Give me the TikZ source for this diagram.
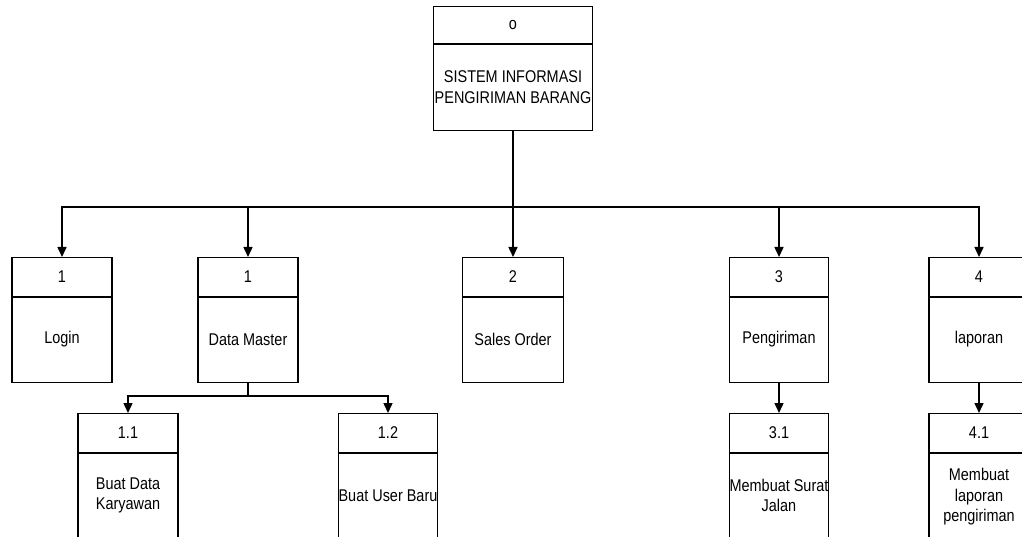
\documentclass[tikz,border=0pt]{standalone}
\usepackage{fontspec}
\setmainfont{Liberation Sans}[FakeStretch=0.85]
\usetikzlibrary{arrows.meta,calc}
\tikzset{
  box/.style={draw, line width=1.4pt, inner sep=0pt, rectangle},
  txt/.style={inner sep=0pt, align=center, font=\fontsize{17}{20.5}\selectfont},
  conn/.style={line width=1.5pt},
  arr/.style={line width=1.5pt, -{Triangle[length=10pt,width=9pt]}},
}
% name, cx, top, width, height, divider offset, number, label
\newcommand\procbox[8]{%
  \node[box, minimum width=#4pt, minimum height=#5pt, anchor=north] (#1) at (#2,#3) {};
  \draw[line width=1.4pt] (#1.north west) ++(0,#6) -- ++(#4,0);
  \node[txt] (#1-n) at (#2,{#3+#6/2}) {#7};
  \node[txt] (#1-t) at (#2,{#3+#6/2+#5/2}) {#8};
}
\begin{document}
\begin{tikzpicture}[x=1pt,y=-1pt]
\useasboundingbox (0,0) rectangle (1022,537);
\procbox{top}{513}{6}{159}{124}{38}{o}{SISTEM INFORMASI\\PENGIRIMAN BARANG}
\procbox{login}{62}{257}{100}{125}{40}{1}{Login}
\procbox{dm}{248}{257}{100}{125}{40}{1}{Data Master}
\procbox{so}{513}{257}{101}{125}{40}{2}{Sales Order}
\procbox{peng}{779}{257}{99}{125}{40}{3}{Pengiriman}
\procbox{lap}{979}{257}{100}{125}{40}{4}{laporan}
\procbox{b11}{128}{413}{100}{125}{40}{1.1}{Buat Data\\Karyawan}
\procbox{b12}{388}{413}{99}{125}{40}{1.2}{Buat User Baru}
\procbox{b31}{779}{413}{99}{125}{40}{3.1}{Membuat Surat\\Jalan}
\node[box, minimum width=100pt, minimum height=125pt, anchor=north] (b41) at (979,413) {};
\draw[line width=1.4pt] (b41.north west) ++(0,40) -- ++(100,0);
\node[txt] (b41-n) at (979,433) {4.1};
\node[txt] (b41-t) at (979,497) {Membuat\\laporan\\pengiriman};

\coordinate (bus) at (513,207);
\draw[conn] (top.south) -- (bus);
\draw[arr] (bus) -| (login.north);
\draw[arr] (bus) -| (dm.north);
\draw[arr] (bus) -- (so.north);
\draw[arr] (bus) -| (peng.north);
\draw[arr] (bus) -| (lap.north);

\coordinate (dmbus) at (248,396);
\draw[conn] (dm.south) -- (dmbus);
\draw[arr] (dmbus) -| (b11.north);
\draw[arr] (dmbus) -| (b12.north);

\draw[arr] (peng.south) -- (b31.north);
\draw[arr] (lap.south) -- (b41.north);
\end{tikzpicture}
\end{document}
